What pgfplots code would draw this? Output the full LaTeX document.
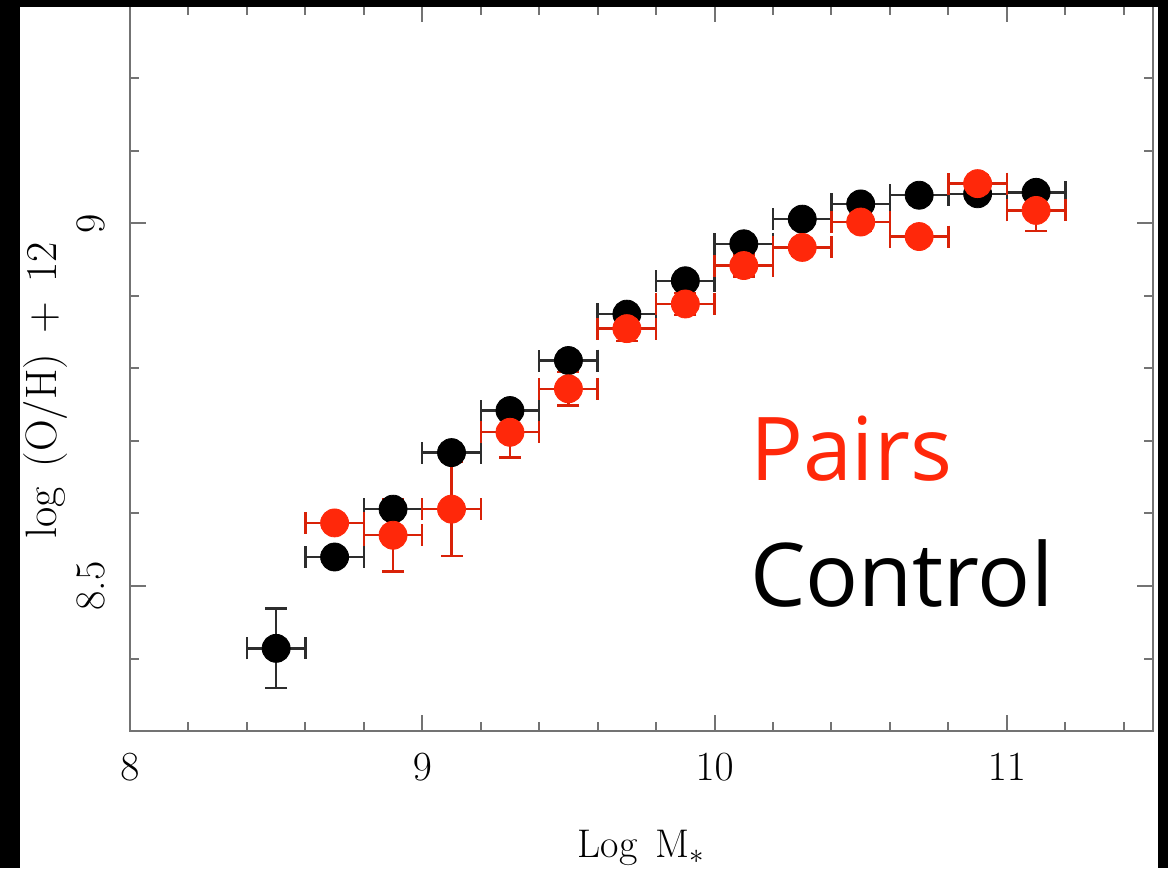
\documentclass[border=0pt]{standalone}
\usepackage{pgfplots}
\pgfplotsset{compat=1.18}
\usepackage{pgfplotstable}
\usepackage{fontspec}
\newfontfamily\notefont{Open Sans}

\definecolor{pairred}{RGB}{255,40,10}
\definecolor{axisgray}{RGB}{115,115,115}
\definecolor{barblack}{RGB}{45,45,45}

% Mass-metallicity relation: bin centre, mean log(O/H)+12, half bin width, error
\pgfplotstableread{
x     y      ex   ey
8.5   8.414  0.1  0.055
8.7   8.540  0.1  0.010
8.9   8.606  0.1  0.010
9.1   8.684  0.1  0.010
9.3   8.742  0.1  0.010
9.5   8.811  0.1  0.010
9.7   8.875  0.1  0.010
9.9   8.921  0.1  0.010
10.1  8.972  0.1  0.010
10.3  9.006  0.1  0.010
10.5  9.027  0.1  0.010
10.7  9.039  0.1  0.010
10.9  9.041  0.1  0.010
11.1  9.043  0.1  0.010
}\controltable

\pgfplotstableread{
x     y      ex   ey
8.7   8.587  0.1  0.010
8.9   8.570  0.1  0.050
9.1   8.606  0.1  0.065
9.3   8.712  0.1  0.035
9.5   8.772  0.1  0.023
9.7   8.855  0.1  0.017
9.9   8.889  0.1  0.015
10.1  8.942  0.1  0.015
10.3  8.967  0.1  0.012
10.5  9.002  0.1  0.012
10.7  8.982  0.1  0.010
10.9  9.055  0.1  0.012
11.1  9.018  0.1  0.028
}\pairstable

\begin{document}
\begin{tikzpicture}
\path[use as bounding box, fill=white] (-65pt,-68.5pt) rectangle (519pt,365.5pt);
\begin{axis}[
  scale only axis,
  width=511.5pt, height=362.5pt,
  xmin=8, xmax=11.5, ymin=8.3, ymax=9.3,
  xtick={8,9,10,11},
  minor xtick={8.2,8.4,8.6,8.8,9.2,9.4,9.6,9.8,10.2,10.4,10.6,10.8,11.2,11.4},
  ytick={8.5,9},
  yticklabels={8.5,9},
  minor ytick={8.4,8.6,8.7,8.8,8.9,9.1,9.2},
  tick align=inside,
  major tick length=8pt,
  minor tick length=4.5pt,
  axis line style={axisgray, line width=1.3pt},
  tick style={axisgray, line width=1pt},
  xticklabel style={font=\fontsize{21}{25}\selectfont, yshift=-8pt},
  yticklabel style={font=\fontsize{21}{25}\selectfont, rotate=90, anchor=south, inner ysep=12pt},
  xlabel={Log\hspace{0.45em}M$_*$},
  xlabel style={at={(axis description cs:0.5,-0.174)}, anchor=base, font=\fontsize{20}{24}\selectfont},
  ylabel={log\hspace{0.45em}(O/H)\hspace{0.45em}+\hspace{0.45em}12},
  ylabel style={at={(axis description cs:-0.083,0.47)}, anchor=center, font=\fontsize{22}{26}\selectfont},
  clip=false,
]
% control sample
\addplot[only marks, mark=*, mark size=7pt, mark options={fill=black, draw=black},
  error bars/.cd, x dir=both, x explicit, y dir=both, y explicit,
  error bar style={barblack, line width=1.2pt},
  error mark options={rotate=90, barblack, line width=1.2pt, mark size=5.5pt}]
  table[x=x, y=y, x error=ex, y error=ey] {\controltable};
% galaxy pairs
\addplot[only marks, mark=*, mark size=7pt, mark options={fill=pairred, draw=pairred},
  error bars/.cd, x dir=both, x explicit, y dir=both, y explicit,
  error bar style={pairred!85!black, line width=1.2pt},
  error mark options={rotate=90, pairred!85!black, line width=1.2pt, mark size=5.5pt}]
  table[x=x, y=y, x error=ex, y error=ey] {\pairstable};

\node[anchor=base west, inner sep=0pt, text=pairred, font=\notefont\fontsize{44}{48}\selectfont]
  at (axis cs:10.12,8.645) {Pairs};
\node[anchor=base west, inner sep=0pt, text=black, font=\notefont\fontsize{44}{48}\selectfont]
  at (axis cs:10.12,8.472) {Control};
\end{axis}
% slide frame
\fill[black] (-65pt,-68.5pt) rectangle (-55pt,365.5pt);
\fill[black] (-65pt,362pt) rectangle (519pt,365.5pt);
\fill[black] (514pt,-68.5pt) rectangle (519pt,365.5pt);
\end{tikzpicture}
\end{document}
